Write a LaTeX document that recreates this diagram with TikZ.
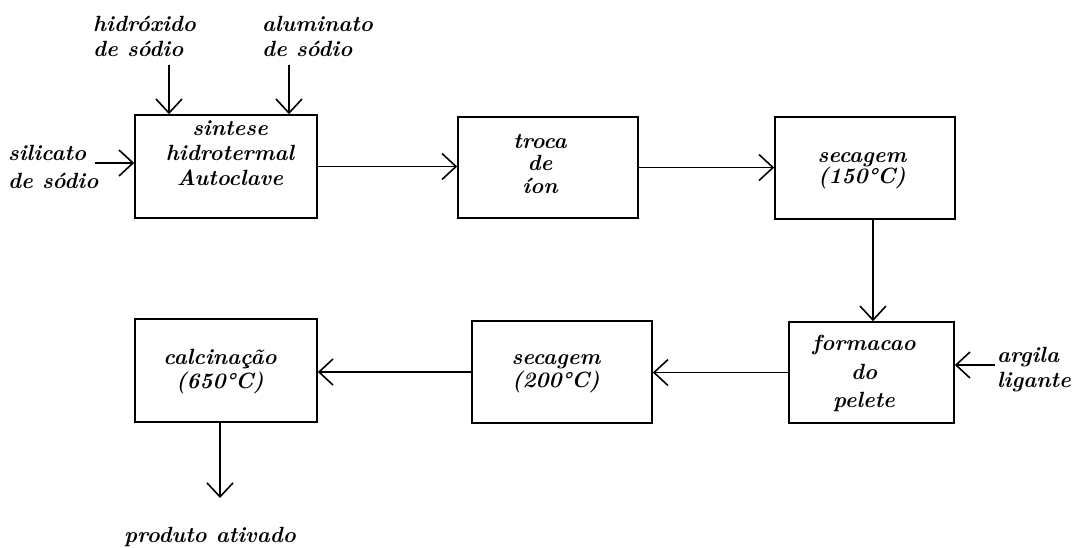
\documentclass[tikz,border=0pt]{standalone}
\usetikzlibrary{arrows.meta,calc}

\tikzset{
  stepbox/.style={draw, line width=1.6pt, inner sep=0pt},
  txt/.style={font=\fontsize{22}{25}\selectfont\bfseries\itshape, inner sep=0pt, align=center},
  lbl/.style={font=\fontsize{22}{25}\selectfont\bfseries\itshape, inner sep=0pt, align=left},
  flow/.style={line width=1.6pt, -{Straight Barb[length=14pt,width=26pt,line width=1.6pt]}},
}

\begin{document}
\begin{tikzpicture}[x=1pt,y=-1pt]
\useasboundingbox (0,0) rectangle (1074,547);

% process boxes
\node[stepbox, minimum width=182pt, minimum height=103pt] (b1) at (226,166.5) {};
\node[stepbox, minimum width=180pt, minimum height=101pt] (b2) at (548,167.5) {};
\node[stepbox, minimum width=180pt, minimum height=102pt] (b3) at (865,168) {};
\node[stepbox, minimum width=165pt, minimum height=101pt] (b4) at (871.5,372.5) {};
\node[stepbox, minimum width=180pt, minimum height=102pt] (b5) at (562,372) {};
\node[stepbox, minimum width=182pt, minimum height=103pt] (b6) at (226,370.5) {};

% box texts
\node[txt] (t1) at (230,153) {sintese\\hidrotermal\\Autoclave};
\node[txt] (t2) at (540,164) {troca\\[-3pt]de\\[-2pt]íon};
\node[txt] (t3) at (862,171) {secagem\\[-4pt](150°C)};
\node[txt] (t4) at (864,373) {formacao\\[4pt]do\\[3pt]pelete};
\node[txt] (t5) at (556,374) {secagem\\[-2pt](200°C)};
\node[txt] (t6) at (220,372) {calcinação\\[-1pt](650°C)};

% feed labels
\node[lbl, anchor=west] (hid) at (93,36) {hidróxido\\de sódio};
\node[lbl, anchor=west] (alu) at (262,36) {aluminato\\de sódio};
\node[lbl, anchor=west] (sil) at (8,167) {silicato\\[3pt]de sódio};
\node[lbl, anchor=west] (arg) at (997,370) {argila\\ligante};
\node[txt] (prod) at (210,537) {produto ativado};

% free ends of the feed and product arrows
\coordinate (hidIn) at (169,65);
\coordinate (aluIn) at (289,65);
\coordinate (silIn) at (95,163);
\coordinate (argIn) at (995,365);
\coordinate (prodOut) at (220,498);
\coordinate (b3out) at (873,219);

% connectors
\draw[flow] (hidIn) -- (hidIn |- b1.north);
\draw[flow] (aluIn) -- (aluIn |- b1.north);
\draw[flow] (silIn) -- (silIn -| b1.west);
\draw[flow] (b1.east) -- (b1.east -| b2.west);
\draw[flow] (b2.east) -- (b2.east -| b3.west);
\draw[flow] (b3out |- b3.south) -- (b3out |- b4.north);
\draw[flow] (argIn) -- (argIn -| b4.east);
\draw[flow] (b4.west) -- (b4.west -| b5.east);
\draw[flow] (b5.west) -- (b5.west -| b6.east);
\draw[flow] (prodOut |- b6.south) -- (prodOut);
\end{tikzpicture}
\end{document}
